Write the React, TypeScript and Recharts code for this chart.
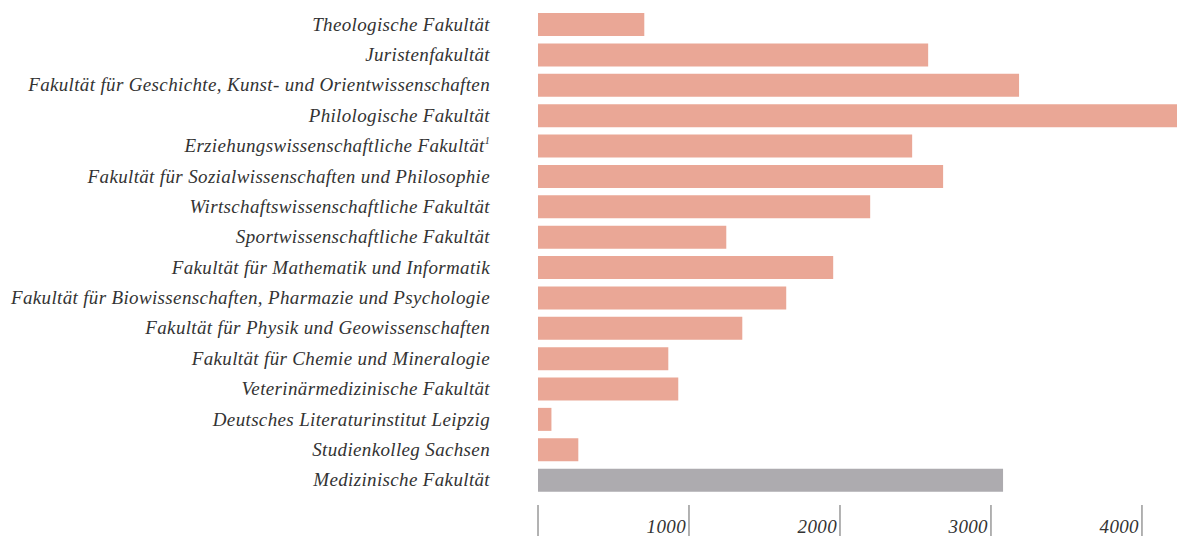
import { Bar, BarChart, Cell, XAxis, YAxis } from "recharts"

const faculties = [
  "Theologische Fakultät",
  "Juristenfakultät",
  "Fakultät für Geschichte, Kunst- und Orientwissenschaften",
  "Philologische Fakultät",
  "Erziehungswissenschaftliche Fakultät",
  "Fakultät für Sozialwissenschaften und Philosophie",
  "Wirtschaftswissenschaftliche Fakultät",
  "Sportwissenschaftliche Fakultät",
  "Fakultät für Mathematik und Informatik",
  "Fakultät für Biowissenschaften, Pharmazie und Psychologie",
  "Fakultät für Physik und Geowissenschaften",
  "Fakultät für Chemie und Mineralogie",
  "Veterinärmedizinische Fakultät",
  "Deutsches Literaturinstitut Leipzig",
  "Studienkolleg Sachsen",
  "Medizinische Fakultät",
]

const students = [704, 2584, 3186, 4300, 2478, 2683, 2200, 1247, 1955, 1644, 1353, 863, 929, 89, 267, 3080]

// footnote marks shown as superscript after the label
const footnotes: Record<string, string> = {
  "Erziehungswissenschaftliche Fakultät": "1",
}

const xTicks = [0, 1000, 2000, 3000, 4000]

const highlight = "Medizinische Fakultät"

const chartData = faculties.map((name, i) => ({ name, value: students[i] }))

const FONT = "'Liberation Serif', 'Times New Roman', serif"

function FacultyTick({ x, y, payload }: any) {
  const note = footnotes[payload.value]
  return (
    <text
      x={x - 48}
      y={y}
      dy={6.5}
      textAnchor="end"
      fontFamily={FONT}
      fontStyle="italic"
      fontSize={19}
      letterSpacing={0.35}
      fill="#333"
    >
      {payload.value}
      {note && (
        <tspan fontSize={10} dy={-8}>
          {note}
        </tspan>
      )}
    </text>
  )
}

function ValueTick({ x, y, payload }: any) {
  return (
    <g>
      <line x1={x} x2={x} y1={y + 10} y2={y + 41} stroke="#666" strokeWidth={1} />
      {payload.value !== 0 && (
        <text
          x={x - 3}
          y={y + 38}
          textAnchor="end"
          fontFamily={FONT}
          fontStyle="italic"
          fontSize={19}
          letterSpacing={0.35}
          fill="#333"
        >
          {payload.value}
        </text>
      )}
    </g>
  )
}

export default function App() {
  return (
    <div style={{ position: "absolute", left: 0, top: 0, width: 1177, height: 536 }}>
      <BarChart
        width={1177}
        height={536}
        data={chartData}
        layout="vertical"
        margin={{ top: 9, right: 0, left: 0, bottom: 0 }}
      >
        <XAxis
          type="number"
          domain={[0, 4232]}
          allowDataOverflow
          ticks={xTicks}
          axisLine={false}
          tickLine={false}
          tickSize={0}
          tickMargin={0}
          height={41}
          tick={<ValueTick />}
          interval={0}
        />
        <YAxis
          type="category"
          dataKey="name"
          width={538}
          axisLine={false}
          tickLine={false}
          tickSize={0}
          tickMargin={0}
          tick={<FacultyTick />}
          interval={0}
        />
        <Bar dataKey="value" barSize={23} isAnimationActive={false}>
          {chartData.map((d) => (
            <Cell key={d.name} fill={d.name === highlight ? "#adabaf" : "#eaa796"} />
          ))}
        </Bar>
      </BarChart>
    </div>
  )
}
